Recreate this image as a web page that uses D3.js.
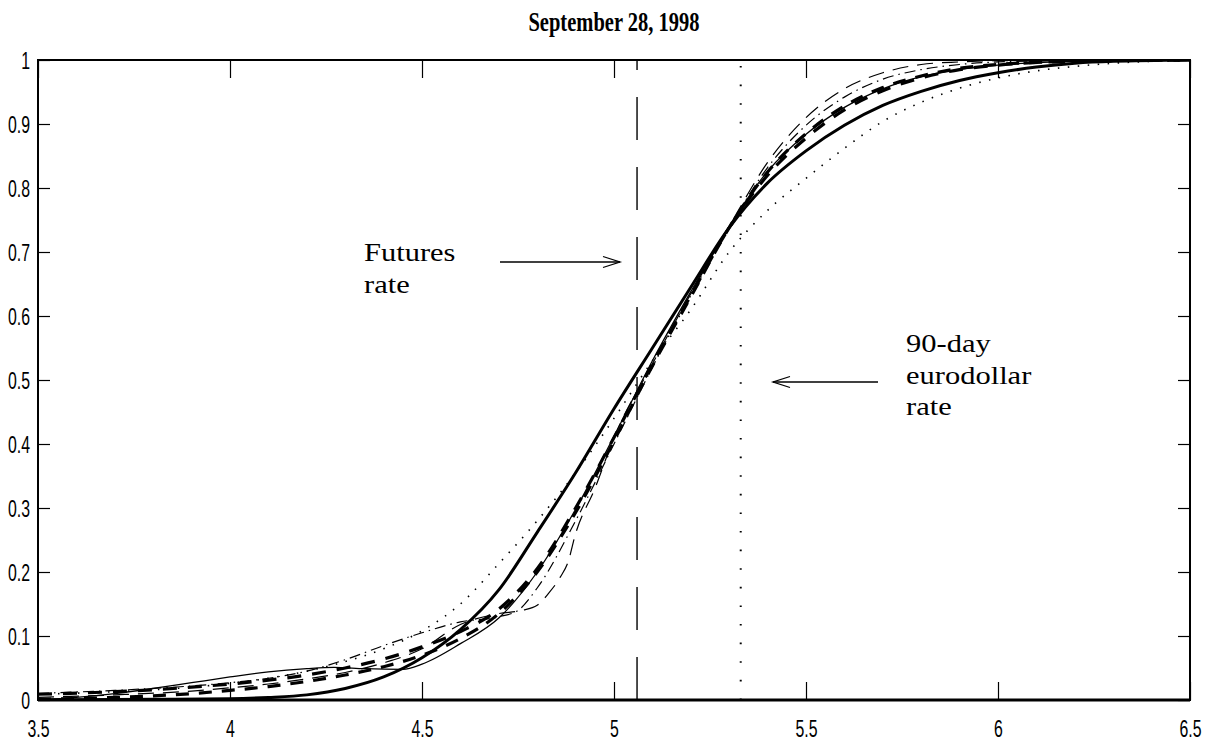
<!DOCTYPE html>
<html>
<head>
<meta charset="utf-8">
<script src="https://cdn.jsdelivr.net/npm/d3@7"></script>
<style>
  html, body { margin: 0; padding: 0; background: #fff; }
  svg { display: block; }
</style>
</head>
<body>
<svg id="chart" width="1211" height="742"></svg>
<script>
// ---------- data ----------
const titleText = "September 28, 1998";
const xTicks = [3.5, 4, 4.5, 5, 5.5, 6, 6.5];
const xTickLabels = ["3.5", "4", "4.5", "5", "5.5", "6", "6.5"];
const yTicks = [0, 0.1, 0.2, 0.3, 0.4, 0.5, 0.6, 0.7, 0.8, 0.9, 1];
const yTickLabels = ["0", "0.1", "0.2", "0.3", "0.4", "0.5", "0.6", "0.7", "0.8", "0.9", "1"];

const futuresRate = 5.06;
const eurodollarRate = 5.33;

const thickSolidX = [3.5, 3.8, 4.0, 4.1, 4.2, 4.3, 4.4, 4.5, 4.6, 4.7, 4.8, 4.9, 5.0, 5.1, 5.2, 5.3, 5.4, 5.5, 5.6, 5.7, 5.8, 5.9, 6.0, 6.1, 6.2, 6.3, 6.5];
const thickSolidY = [0, 0.001, 0.002, 0.004, 0.008, 0.018, 0.036, 0.066, 0.11, 0.172, 0.262, 0.355, 0.455, 0.55, 0.645, 0.738, 0.808, 0.858, 0.898, 0.929, 0.951, 0.968, 0.98, 0.989, 0.995, 0.998, 1.0];

const thinSolidX = [3.5, 3.6, 3.7, 3.8, 3.9, 4.0, 4.1, 4.2, 4.27, 4.35, 4.45, 4.5, 4.6, 4.7, 4.8, 4.9, 5.0, 5.1, 5.2, 5.3, 5.4, 5.5, 5.6, 5.7, 5.8, 5.9, 6.0, 6.2, 6.5];
const thinSolidY = [0, 0.004, 0.01, 0.018, 0.027, 0.036, 0.044, 0.049, 0.051, 0.049, 0.048, 0.056, 0.088, 0.128, 0.2, 0.298, 0.412, 0.53, 0.638, 0.74, 0.826, 0.884, 0.926, 0.955, 0.974, 0.985, 0.992, 0.998, 1.0];

const dottedX = [3.5, 3.7, 3.9, 4.0, 4.1, 4.2, 4.3, 4.4, 4.5, 4.6, 4.7, 4.8, 4.9, 5.0, 5.1, 5.2, 5.3, 5.4, 5.5, 5.6, 5.7, 5.8, 5.9, 6.0, 6.1, 6.2, 6.3, 6.5];
const dottedY = [0.009, 0.013, 0.02, 0.026, 0.034, 0.045, 0.06, 0.08, 0.108, 0.15, 0.213, 0.28, 0.355, 0.44, 0.53, 0.61, 0.7, 0.765, 0.815, 0.862, 0.904, 0.934, 0.956, 0.972, 0.983, 0.99, 0.995, 0.999];

const dashDotX = [3.5, 3.7, 3.9, 4.0, 4.1, 4.2, 4.3, 4.4, 4.5, 4.6, 4.7, 4.75, 4.8, 4.9, 5.0, 5.1, 5.2, 5.3, 5.4, 5.5, 5.6, 5.7, 5.8, 5.9, 6.0, 6.2, 6.5];
const dashDotY = [0.0104, 0.015, 0.022, 0.027, 0.034, 0.045, 0.063, 0.085, 0.105, 0.122, 0.13, 0.14, 0.175, 0.28, 0.4, 0.52, 0.632, 0.738, 0.832, 0.898, 0.942, 0.97, 0.985, 0.993, 0.997, 0.999, 1.0];

const thickDashAX = [3.5, 3.7, 3.9, 4.0, 4.1, 4.2, 4.3, 4.4, 4.5, 4.6, 4.7, 4.8, 4.9, 5.0, 5.1, 5.2, 5.3, 5.4, 5.5, 5.6, 5.7, 5.8, 5.9, 6.0, 6.2, 6.5];
const thickDashAY = [0.009, 0.013, 0.02, 0.025, 0.031, 0.039, 0.05, 0.064, 0.083, 0.107, 0.142, 0.205, 0.3, 0.41, 0.525, 0.632, 0.738, 0.82, 0.878, 0.922, 0.952, 0.972, 0.985, 0.992, 0.998, 1.0];

const thickDashBX = [3.5, 3.7, 3.9, 4.0, 4.1, 4.2, 4.3, 4.4, 4.5, 4.6, 4.7, 4.8, 4.9, 5.0, 5.1, 5.2, 5.3, 5.4, 5.5, 5.6, 5.7, 5.8, 5.9, 6.0, 6.2, 6.5];
const thickDashBY = [0.001, 0.004, 0.01, 0.015, 0.021, 0.029, 0.039, 0.052, 0.07, 0.096, 0.135, 0.2, 0.293, 0.405, 0.522, 0.63, 0.738, 0.825, 0.885, 0.928, 0.957, 0.975, 0.987, 0.993, 0.998, 1.0];

const longDashX = [3.5, 3.7, 3.9, 4.0, 4.1, 4.2, 4.3, 4.4, 4.5, 4.6, 4.7, 4.76, 4.8, 4.83, 4.86, 4.88, 4.9, 4.95, 5.0, 5.1, 5.2, 5.3, 5.4, 5.5, 5.6, 5.7, 5.8, 5.9, 6.0, 6.5];
const longDashY = [0.004, 0.008, 0.014, 0.019, 0.025, 0.033, 0.043, 0.058, 0.08, 0.118, 0.135, 0.14, 0.148, 0.167, 0.192, 0.215, 0.26, 0.33, 0.41, 0.525, 0.635, 0.74, 0.84, 0.91, 0.955, 0.98, 0.993, 0.997, 0.999, 1.0];

// ---------- layout ----------
const svg = d3.select("#chart");
const L = 38, R = 1190, T = 60, B = 700;
const x = d3.scaleLinear().domain([3.5, 6.5]).range([L, R]);
const y = d3.scaleLinear().domain([0, 1]).range([B, T]);

svg.append("defs").append("clipPath").attr("id", "clip")
  .append("rect").attr("x", L).attr("y", T).attr("width", R - L).attr("height", B - T);

const zip = (xs, ys) => xs.map((v, i) => [v, ys[i]]);
const line = d3.line().x(d => x(d[0])).y(d => y(d[1])).curve(d3.curveMonotoneX);

const series = [
  { data: zip(dottedX, dottedY), w: 1.6, dash: "1.5,8.5", cap: "butt" },
  { data: zip(longDashX, longDashY), w: 1.2, dash: "16,9", cap: "butt" },
  { data: zip(dashDotX, dashDotY), w: 1.2, dash: "11,5,1.5,5", cap: "butt" },
  { data: zip(thickDashBX, thickDashBY), w: 3.2, dash: "13,10", cap: "butt" },
  { data: zip(thickDashAX, thickDashAY), w: 3.2, dash: "14,11", cap: "butt" },
  { data: zip(thinSolidX, thinSolidY), w: 1.3, dash: null, cap: "round" },
  { data: zip(thickSolidX, thickSolidY), w: 3, dash: null, cap: "round" }
];

const plot = svg.append("g").attr("clip-path", "url(#clip)");
series.forEach(s => {
  plot.append("path")
    .attr("d", line(s.data))
    .attr("fill", "none")
    .attr("stroke", "#000")
    .attr("stroke-width", s.w)
    .attr("stroke-linecap", s.cap)
    .attr("stroke-dasharray", s.dash);
});

// vertical reference lines
const vline = d3.line().x(d => x(d[0])).y(d => y(d[1]));
plot.append("path")
  .attr("d", vline([[futuresRate, 0], [futuresRate, 1]]))
  .attr("stroke", "#000").attr("stroke-width", 1.4)
  .attr("stroke-dasharray", "43,27").attr("fill", "none");
plot.append("path")
  .attr("d", vline([[eurodollarRate, 0], [eurodollarRate, 1]]))
  .attr("stroke", "#000").attr("stroke-width", 2)
  .attr("stroke-dasharray", "1.6,17").attr("fill", "none");

// ---------- axes ----------
const tickFont = "'Liberation Sans', Arial, sans-serif";
const xAxisB = svg.append("g").attr("transform", `translate(0,${B})`)
  .call(d3.axisBottom(x).tickValues(xTicks).tickFormat((d, i) => xTickLabels[i]).tickSize(-18).tickSizeOuter(0));
const xAxisT = svg.append("g").attr("transform", `translate(0,${T})`)
  .call(d3.axisTop(x).tickValues(xTicks).tickFormat("").tickSize(-18).tickSizeOuter(0));
const yAxisL = svg.append("g").attr("transform", `translate(${L},0)`)
  .call(d3.axisLeft(y).tickValues(yTicks).tickFormat((d, i) => yTickLabels[i]).tickSize(-12).tickSizeOuter(0));
const yAxisR = svg.append("g").attr("transform", `translate(${R},0)`)
  .call(d3.axisRight(y).tickValues(yTicks).tickFormat("").tickSize(-12).tickSizeOuter(0));

[xAxisB, xAxisT, yAxisL, yAxisR].forEach(g => {
  g.select(".domain").remove();
  g.selectAll(".tick line").attr("stroke", "#000").attr("stroke-width", 1.2);
});

xAxisB.selectAll(".tick text")
  .attr("y", 0).attr("dy", 0)
  .attr("transform", "translate(0,37) scale(0.66,1)")
  .attr("text-anchor", "middle")
  .style("font-family", tickFont).style("font-size", "24px").attr("fill", "#000");

yAxisL.selectAll(".tick text")
  .attr("x", 0).attr("dy", "0.36em")
  .attr("transform", "translate(-8,0) scale(0.66,1)")
  .attr("text-anchor", "end")
  .style("font-family", tickFont).style("font-size", "24px").attr("fill", "#000");

// frame
svg.append("rect").attr("x", L).attr("y", T).attr("width", R - L).attr("height", B - T)
  .attr("fill", "none").attr("stroke", "#000").attr("stroke-width", 2);
svg.append("line").attr("x1", L).attr("x2", R).attr("y1", B).attr("y2", B)
  .attr("stroke", "#000").attr("stroke-width", 3);

// ---------- title ----------
svg.append("text")
  .attr("transform", `translate(${(L + R) / 2},31) scale(0.76,1)`)
  .attr("text-anchor", "middle")
  .style("font-family", "'Liberation Serif', 'Times New Roman', serif")
  .style("font-weight", "bold").style("font-size", "27px")
  .text(titleText);

// ---------- annotations ----------
const serif = "'Liberation Serif', 'Times New Roman', serif";
function label(lines, x0, y0, dy) {
  lines.forEach((t, i) => {
    svg.append("text")
      .attr("transform", `translate(${x0},${y0 + i * dy}) scale(1.22,1)`)
      .style("font-family", serif).style("font-size", "25px")
      .text(t);
  });
}
label(["Futures", "rate"], 364, 261, 32.3);
label(["90-day", "eurodollar", "rate"], 906, 352, 31.5);

function arrow(x1, x2, yy) {
  const dir = Math.sign(x2 - x1);
  svg.append("line").attr("x1", x1).attr("x2", x2).attr("y1", yy).attr("y2", yy)
    .attr("stroke", "#000").attr("stroke-width", 1.3);
  svg.append("path")
    .attr("d", `M${x2 - dir * 17},${yy - 5.5}L${x2},${yy}L${x2 - dir * 17},${yy + 5.5}`)
    .attr("fill", "none").attr("stroke", "#000").attr("stroke-width", 1.3);
}
arrow(500, 620, 262);
arrow(878, 773, 382);
</script>
</body>
</html>
